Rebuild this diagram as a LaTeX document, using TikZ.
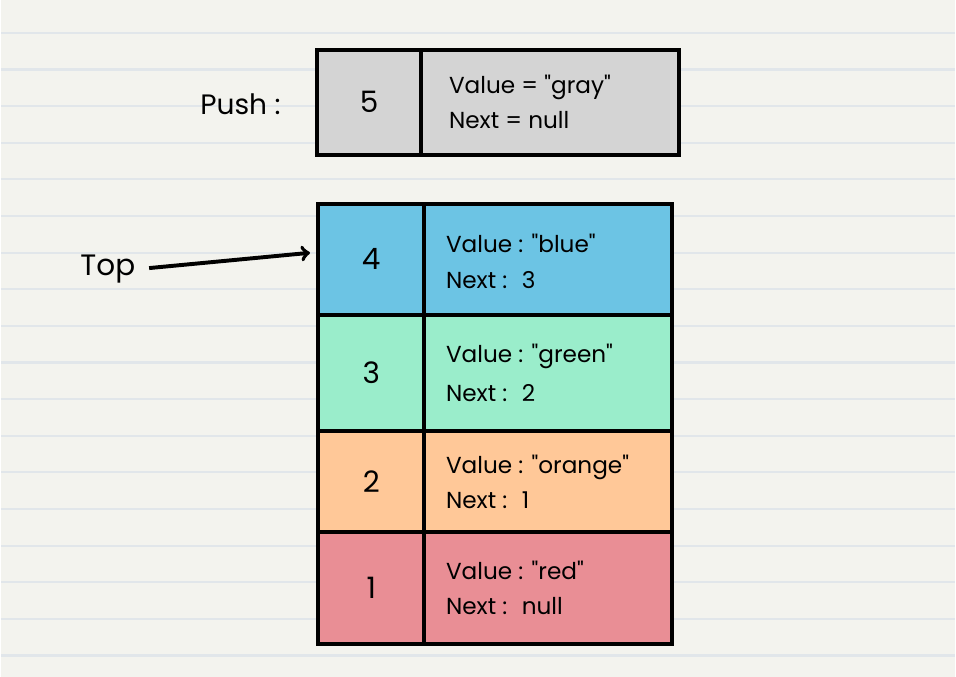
\documentclass[tikz,border=0pt]{standalone}
\usepackage{fontspec}
\setmainfont{Poppins}[Ligatures=TeXOff]
\usetikzlibrary{positioning}
\definecolor{paper}{HTML}{F3F3EE}
\definecolor{rule}{HTML}{E1E6EA}
\definecolor{cgray}{HTML}{D4D4D4}
\definecolor{cblue}{HTML}{6CC4E4}
\definecolor{cgreen}{HTML}{9AEDCB}
\definecolor{corange}{HTML}{FFC898}
\definecolor{cred}{HTML}{E98E95}
\begin{document}
\begin{tikzpicture}[x=0.025cm,y=-0.025cm,inner sep=0pt,outer sep=0pt,
cell/.style={draw,rectangle,line width=2.8pt,minimum width=2.65cm},
datacell/.style={draw,rectangle,line width=2.8pt,minimum width=6.2cm},
numtext/.style={font=\fontsize{21}{24}\selectfont},
fieldtext/.style={anchor=west,align=left,font=\fontsize{16.5}{25}\selectfont}]
% paper
\fill[paper] (0,0) rectangle (956,678);
\foreach \k in {0,...,17} \draw[rule,line width=1.5pt] (0,33+36.7*\k) -- (956,33+36.7*\k);
\useasboundingbox (0,0) rectangle (956,678);

% push box
\draw (369,102.5) node[cell,fill=cgray,minimum width=2.6cm,minimum height=2.625cm,numtext] (P5) {5};
\node[datacell,fill=cgray,minimum width=6.45cm,minimum height=2.625cm,right=0pt of P5] (PV) {};
\node[fieldtext] at ([xshift=0.7cm]PV.west) {Value = "gray"\\Next = null};
\draw (240,104) node[font=\fontsize{20}{24}\selectfont] (push) {Push :};

% stack
\draw (371,260) node[cell,fill=cblue,minimum height=2.8cm,numtext] (L4) {4};
\node[cell,fill=cgreen,minimum height=2.9cm,numtext,below=0pt of L4] (L3) {3};
\node[cell,fill=corange,minimum height=2.525cm,numtext,below=0pt of L3] (L2) {2};
\node[cell,fill=cred,minimum height=2.8cm,numtext,below=0pt of L2] (L1) {1};
\node[datacell,fill=cblue,minimum height=2.8cm,right=0pt of L4] (R4) {};
\node[datacell,fill=cgreen,minimum height=2.9cm,right=0pt of L3] (R3) {};
\node[datacell,fill=corange,minimum height=2.525cm,right=0pt of L2] (R2) {};
\node[datacell,fill=cred,minimum height=2.8cm,right=0pt of L1] (R1) {};
\node[fieldtext] at ([xshift=0.55cm,yshift=-0.05cm]R4.west) {Value : "blue"\\Next : \ 3};
\node[fieldtext] at ([xshift=0.55cm]R3.west) {Value : "green"\\[3pt]Next : \ 2};
\node[fieldtext] at ([xshift=0.55cm]R2.west) {Value : "orange"\\Next : \ 1};
\node[fieldtext] at ([xshift=0.55cm]R1.west) {Value : "red"\\Next : \ null};

% top pointer
\draw (107,270) node[font=\fontsize{21}{24}\selectfont] (top) {Top};
\draw[->,line width=2.8pt,shorten <=10pt,shorten >=6pt] (top.east) -- (L4.172);
\end{tikzpicture}
\end{document}
